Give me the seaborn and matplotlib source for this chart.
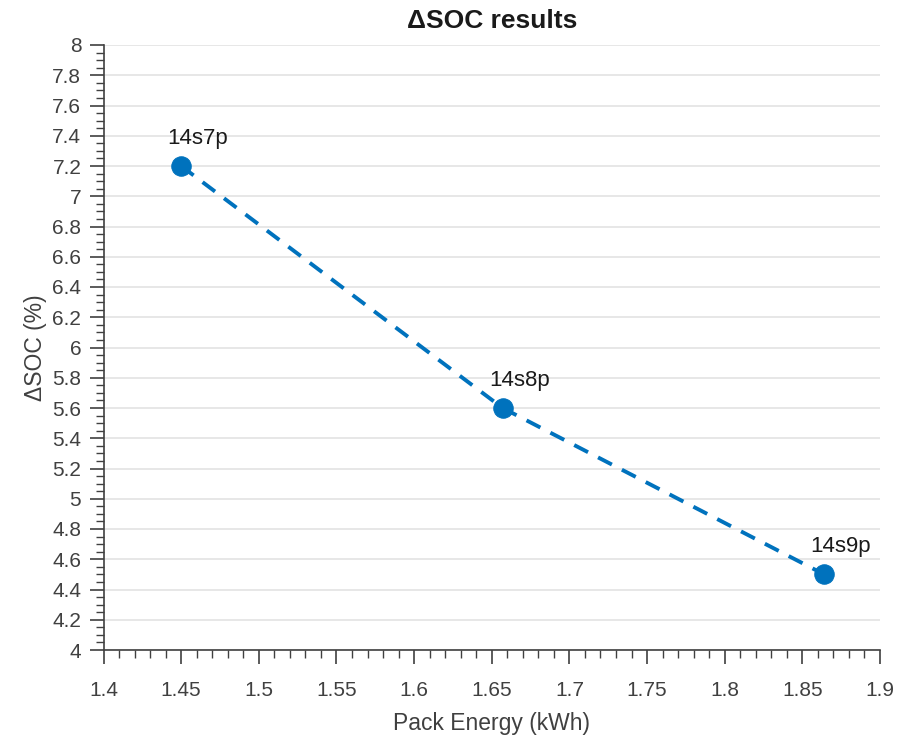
"""Delta SOC versus pack energy for the three pack configurations."""

import matplotlib
matplotlib.use("Agg")
import matplotlib.pyplot as plt
import pandas as pd
import seaborn as sns
from matplotlib.ticker import MultipleLocator, FormatStrFormatter

configs = ["14s7p", "14s8p", "14s9p"]
pack_energy = [1.45, 1.657, 1.864]
delta_soc = [7.2, 5.6, 4.5]

BLUE = "#0072BD"
AXIS = "#404040"

sns.set_theme(style="white")
plt.rcParams["font.family"] = ["Liberation Sans", "DejaVu Sans"]

df = pd.DataFrame({"config": configs, "energy": pack_energy, "dsoc": delta_soc})

fig = plt.figure(figsize=(8.99, 7.42), dpi=100)
ax = fig.add_axes([103.5 / 899, 92 / 742, 776.5 / 899, 605 / 742])

sns.lineplot(data=df, x="energy", y="dsoc", ax=ax, color=BLUE, linewidth=2.8,
             linestyle=(0, (4.0, 2.9)), marker="o", markersize=14,
             markeredgecolor=BLUE, markerfacecolor=BLUE)

for _, row in df.iterrows():
    ax.annotate(row["config"], (row["energy"], row["dsoc"]), xytext=(12, 20),
                textcoords="offset points", ha="center", va="center",
                fontsize=16, color="#1a1a1a")

ax.set_xlim(1.4, 1.9)
ax.set_ylim(4, 8)
ax.xaxis.set_major_locator(MultipleLocator(0.05))
ax.xaxis.set_minor_locator(MultipleLocator(0.01))
ax.yaxis.set_major_locator(MultipleLocator(0.2))
ax.yaxis.set_minor_locator(MultipleLocator(0.05))
ax.xaxis.set_major_formatter(FormatStrFormatter("%g"))
ax.yaxis.set_major_formatter(FormatStrFormatter("%g"))

ax.grid(True, axis="y", which="major", color="#e3e3e3", linewidth=1.2)
ax.grid(False, axis="x")
ax.set_axisbelow(True)

for side in ["top", "right"]:
    ax.spines[side].set_visible(False)
for side in ["left", "bottom"]:
    ax.spines[side].set_color(AXIS)
    ax.spines[side].set_linewidth(1.2)

ax.tick_params(which="major", direction="out", length=10, width=1.2, color=AXIS,
               labelsize=15, labelcolor=AXIS, left=True, bottom=True, pad=6)
ax.tick_params(axis="x", which="major", pad=12)
ax.tick_params(which="minor", direction="out", length=6, width=1.0, color=AXIS,
               left=True, bottom=True)

ax.set_xlabel("Pack Energy (kWh)", fontsize=16.5, color=AXIS, labelpad=9)
ax.set_ylabel("ΔSOC (%)", fontsize=16.5, color=AXIS, labelpad=4)
ax.set_title("ΔSOC results", fontsize=19, fontweight="bold", color="#1a1a1a", pad=12)

fig.savefig("out.png", dpi=100)
